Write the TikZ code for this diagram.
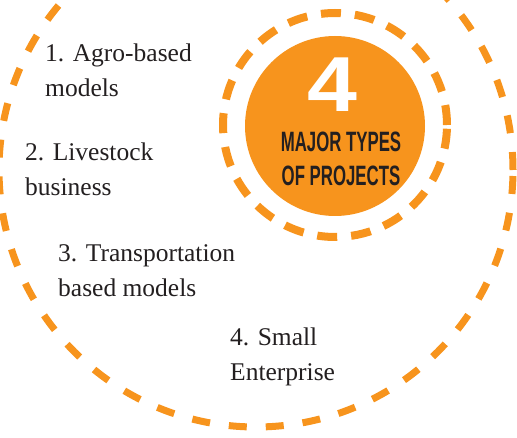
\documentclass[tikz,border=0pt]{standalone}
\usepackage{fontspec}
\setmainfont{Liberation Serif}
\newfontfamily\headfont{Liberation Sans}
\definecolor{projorange}{HTML}{F7941D}
\definecolor{inkdark}{HTML}{231F20}
\newcommand{\narrowcaps}[1]{\scalebox{0.6}[1]{#1}}
\begin{document}
\begin{tikzpicture}[x=1pt,y=-1pt]
        \tikzstyle{ring}=[draw=projorange,shape=circle,inner sep=0pt];
        \tikzstyle{item}=[anchor=base west,align=left,inner sep=0pt,text=inkdark,font=\fontsize{25.5}{35}\selectfont];
        \useasboundingbox (0,0) rectangle (517,438);
        \clip (0,0) rectangle (517,438);
        % rings and the orange disc
        \node[ring,line width=7pt,dash pattern=on 18pt off 19pt,minimum size=514pt] (outer) at (256,170) {};
        \node[ring,line width=8pt,dash pattern=on 20pt off 14pt,minimum size=224pt] (halo) at (335,125) {};
        \node[shape=circle,fill=projorange,minimum size=180pt,inner sep=0pt] (core) at (335,126) {};
        \node[inner sep=0pt,text=white,font=\headfont\bfseries\fontsize{78}{78}\selectfont] (four) at (332,85) {\scalebox{1.15}[1]{4}};
        \node[inner sep=0pt,align=center,text=inkdark,font=\headfont\bfseries\fontsize{28}{34}\selectfont] (title) at (341,159) {\narrowcaps{MAJOR TYPES}\\\narrowcaps{OF PROJECTS}};
        % the four items (anchored at the baseline of their last line)
        \node[item] (agro) at (45,97) {1. Agro-based\\models};
        \node[item] (livestock) at (25,196) {2. Livestock\\business};
        \node[item] (transport) at (58,297) {3. Transportation\\based models};
        \node[item] (enterprise) at (230,381) {4. Small\\Enterprise};
\end{tikzpicture}
\end{document}
